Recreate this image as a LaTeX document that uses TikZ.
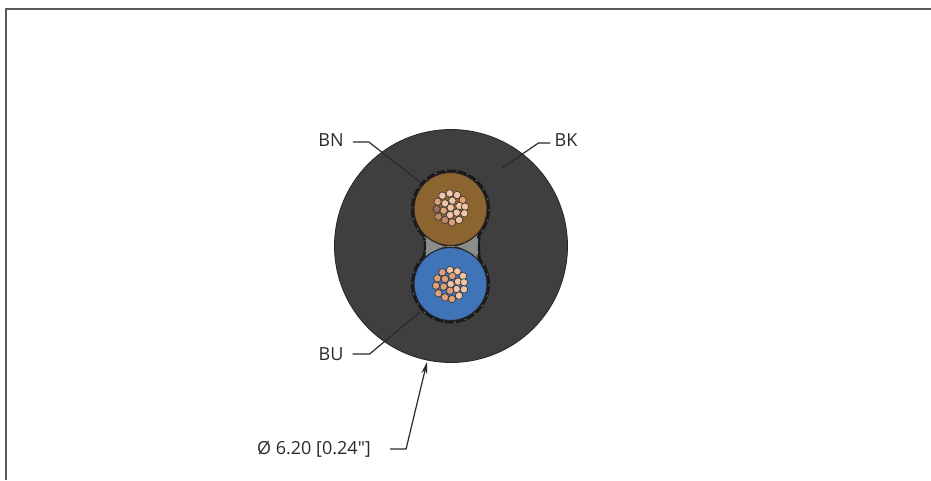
\documentclass[tikz,border=0pt]{standalone}
\usepackage{fontspec}
\newfontfamily\lblfont{Open Sans}
\usetikzlibrary{arrows.meta}
\definecolor{jacket}{HTML}{3F3F3F}
\definecolor{brownins}{HTML}{8C6430}
\definecolor{blueins}{HTML}{3F74B8}
\definecolor{filler}{HTML}{8C8C8C}
\definecolor{strandA}{HTML}{F0C4A4}
\definecolor{strandB}{HTML}{DFA078}
\definecolor{inkline}{HTML}{2A2A2A}
\tikzset{
  lbl/.style={font=\lblfont\fontsize{18}{21}\selectfont, text=inkline, inner sep=0pt},
  leader/.style={draw=inkline, line width=1.2pt, line join=round},
  framel/.style={draw=black!65, line width=1.2pt},
  strand/.style={fill=#1, draw=black!80, line width=0.6pt},
  sleeve/.style={draw=black!90, line width=2.2pt},
  sleevedash/.style={draw=white!70!black, line width=0.4pt, dash pattern=on 2pt off 9pt},
}
\begin{document}
\begin{tikzpicture}[x=1pt,y=-1pt]
\useasboundingbox (0,0) rectangle (931,480);
\fill[white] (0,0) rectangle (931,480);
\draw[framel] (6,480) -- (6,9) -- (931,9);
% jacket
\fill[jacket] (451,246) circle (116.5);
\draw[black!85,line width=0.8pt] (451,246) circle (116.5);
% filler
\path[fill=filler] (420,222) .. controls (428,238) and (428,254) .. (420,272) -- (482,272) .. controls (477,254) and (477,238) .. (482,222) -- cycle;
\draw[sleeve] (419.5,226) .. controls (427,238) and (427,254) .. (419.5,266);
\draw[sleeve] (481.5,226) .. controls (478,238) and (478,254) .. (481.5,266);
\draw[sleevedash] (421.5,229) .. controls (427,240) and (427,252) .. (421.5,263);
\draw[sleevedash] (479.5,229) .. controls (477,240) and (477,252) .. (479.5,263);
% insulated conductors
\fill[black!90] (450.5,209) circle (39.5);
\fill[black!90] (450.5,284) circle (39.5);
\draw[sleevedash] (450.5,209) circle (38.5);
\draw[sleevedash] (450.5,284) circle (38.5);
% filler triangles between the sleeves
\path[fill=filler] (425,233) .. controls (434,243) and (442,247) .. (450.5,247) .. controls (459,247) and (468,243) .. (478,233) .. controls (475,243) and (475,252) .. (478,260) .. controls (468,250) and (459,246) .. (450.5,246) .. controls (442,246) and (434,250) .. (425,260) .. controls (427,252) and (427,243) .. (425,233) -- cycle;
\fill[brownins,draw=black!85,line width=1.1pt] (450.5,209) circle (36.5);
\fill[blueins,draw=black!85,line width=1.1pt] (450.5,284) circle (36.5);
% brown strands
\foreach \a/\b/\c in {149/100/strandA,171/105/strandA,127/107/strandA,188/120/strandB,113/125/strandB,135/130/strandA,157/122/strandA,178/138/strandA,195/140/strandA,152/143/strandA,110/147/strandB!70!black,131/152/strandB,193/160/strandA,170/158/strandA,150/165/strandA,115/170/strandB!85!black,135/180/strandB!85!black,177/180/strandA,156/187/strandB}
  \draw[strand=\c] ({400+\a/3},{160+\b/3}) circle (3.7);
% blue strands
\foreach \a/\b/\c in {150/120/strandA,172/124/strandA,127/127/strandB,189/138/strandA,112/145/strandB,135/147/strandB,157/138/strandB,174/155/strandA,192/157/strandA,152/162/strandA,108/167/strandB,131/170/strandB,170/177/strandA,192/178/strandA,115/190/strandB,135/202/strandB,156/207/strandB,177/197/strandA,150/182/strandB}
  \draw[strand=\c] ({400+\a/3},{230+\b/3}) circle (3.7);
% labels
\node[lbl] (bn) at (331,140) {BN};
\node[lbl] (bk) at (566,140) {BK};
\node[lbl] (bu) at (331,354) {BU};
\node[lbl] (dia) at (314,449) {Ø 6.20 [0.24"]};
% leader targets
\coordinate (bnend) at (420,182);
\coordinate (bkend) at (502,168);
\coordinate (buend) at (420,312);
\coordinate (diaend) at (427,362);
\draw[leader] ([xshift=9pt,yshift=-2pt]bn.east) -- ++(16,0) -- (bnend);
\draw[leader] ([xshift=-4pt,yshift=-3pt]bk.west) -- ++(-12,0) -- (bkend);
\draw[leader] ([xshift=9pt]bu.east) -- ++(17,0) -- (buend);
\draw[leader,-{Stealth[length=12pt,width=6pt]}] ([xshift=19pt]dia.east) -- ++(16,0) -- (diaend);
\end{tikzpicture}
\end{document}
